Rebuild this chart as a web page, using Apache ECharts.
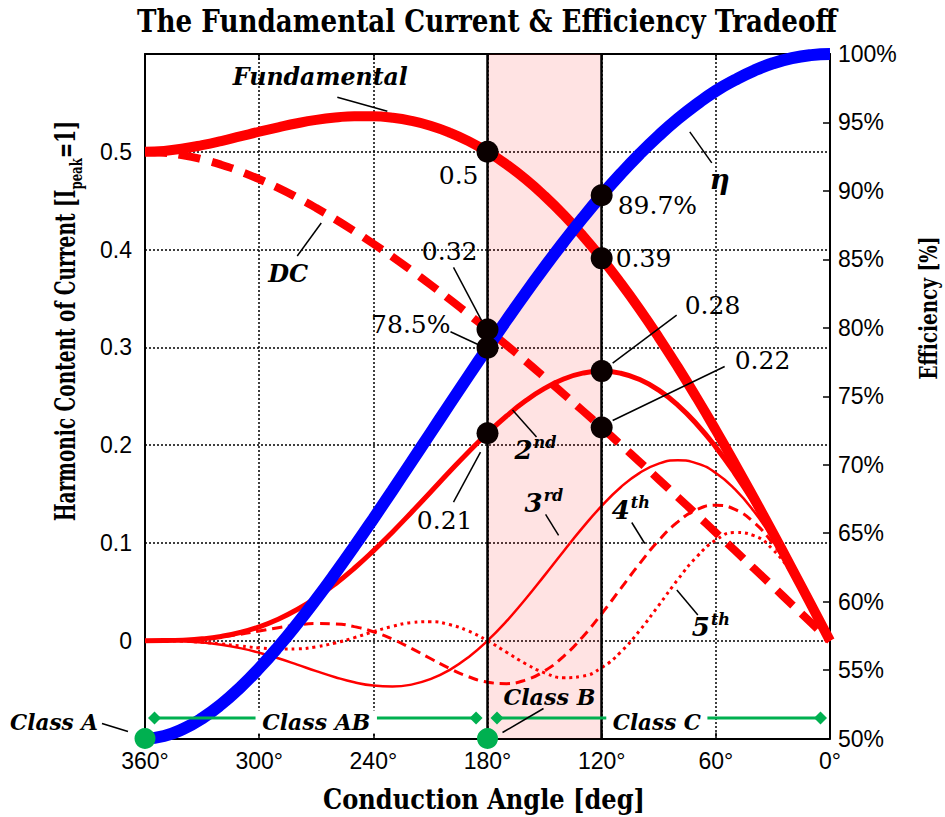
<!DOCTYPE html>
<html><head><meta charset="utf-8">
<script src="https://cdn.jsdelivr.net/npm/echarts@6/dist/echarts.min.js"></script>
<style>html,body{margin:0;padding:0;background:#fff}#c{width:945px;height:817px}</style>
</head><body><div id="c"></div>
<script>
// Conduction angle (deg), 360 -> 0
const angles = [360,350,340,330,320,310,300,290,280,270,260,250,240,230,220,210,200,190,180,170,160,150,140,130,120,110,100,90,80,70,60,50,40,30,20,10,0];
const fundamental = [0.5000,0.5009,0.5033,0.5068,0.5110,0.5157,0.5205,0.5250,0.5292,0.5326,0.5350,0.5364,0.5363,0.5348,0.5316,0.5266,0.5197,0.5109,0.5000,0.4870,0.4720,0.4548,0.4356,0.4143,0.3910,0.3658,0.3389,0.3102,0.2799,0.2482,0.2152,0.1811,0.1460,0.1102,0.0738,0.0370,0];
const dcCurrent = [0.5000,0.4991,0.4965,0.4923,0.4868,0.4800,0.4720,0.4631,0.4532,0.4425,0.4310,0.4188,0.4060,0.3926,0.3786,0.3642,0.3493,0.3340,0.3183,0.3023,0.2860,0.2693,0.2524,0.2353,0.2180,0.2005,0.1828,0.1649,0.1469,0.1288,0.1106,0.0923,0.0739,0.0555,0.0370,0.0185,0];
const second = [0,0.0001,0.0006,0.0019,0.0044,0.0084,0.0142,0.0220,0.0319,0.0440,0.0581,0.0741,0.0919,0.1110,0.1312,0.1519,0.1727,0.1930,0.2122,0.2298,0.2453,0.2580,0.2676,0.2736,0.2757,0.2735,0.2671,0.2562,0.2409,0.2214,0.1980,0.1710,0.1408,0.1080,0.0731,0.0369,0];
const third = [0,-0.0001,-0.0006,-0.0018,-0.0041,-0.0076,-0.0123,-0.0180,-0.0244,-0.0311,-0.0373,-0.0425,-0.0459,-0.0469,-0.0449,-0.0393,-0.0300,-0.0168,0,0.0200,0.0426,0.0668,0.0915,0.1156,0.1378,0.1569,0.1717,0.1811,0.1845,0.1814,0.1715,0.1549,0.1323,0.1043,0.0720,0.0368,0];
const fourth = [0,0.0001,0.0005,0.0017,0.0038,0.0066,0.0100,0.0133,0.0161,0.0176,0.0172,0.0144,0.0092,0.0016,-0.0078,-0.0182,-0.0283,-0.0368,-0.0424,-0.0439,-0.0402,-0.0309,-0.0160,0.0039,0.0276,0.0533,0.0790,0.1025,0.1215,0.1340,0.1386,0.1343,0.1210,0.0993,0.0705,0.0366,0];
const fifth = [0,-0.0001,-0.0005,-0.0016,-0.0033,-0.0054,-0.0074,-0.0085,-0.0083,-0.0062,-0.0023,0.0031,0.0092,0.0147,0.0185,0.0194,0.0165,0.0099,0,-0.0118,-0.0235,-0.0329,-0.0378,-0.0363,-0.0276,-0.0116,0.0105,0.0362,0.0625,0.0859,0.1029,0.1107,0.1075,0.0931,0.0686,0.0363,0];
const efficiency = [50.00,50.18,50.69,51.47,52.49,53.72,55.13,56.69,58.38,60.18,62.07,64.03,66.05,68.11,70.20,72.30,74.40,76.48,78.54,80.56,82.53,84.43,86.27,88.02,89.68,91.24,92.70,94.04,95.26,96.34,97.31,98.10,98.78,99.32,99.70,99.92,100.00];

// Class regions (deg) and efficiency-level row for the class bars
const classAB = [355, 186];
const classC = [175, 5];
const classRow = 51.5;
const classDots = [360, 180];
const bandAngles = [180, 120];

const TITLE = 'The Fundamental Current & Efficiency Tradeoff';
const XNAME = 'Conduction Angle [deg]';
const YNAME_A = 'Harmonic Content of Current [I', YNAME_SUB = 'peak', YNAME_B = '=1]';
const Y2NAME = 'Efficiency [%]';

const pair = arr => angles.map((a, i) => [a, arr[i]]);
const at = (arr, a) => arr[angles.indexOf(a)];

const RED = '#ff0000', BLUE = '#0000ff', GREEN = '#00b050';
const SANS = 'Liberation Sans';
const dotted = {color: '#000', type: [2, 2], width: 1.5};

const harmMarkers = [];
bandAngles.forEach(a => { harmMarkers.push([a, at(fundamental, a)], [a, at(dcCurrent, a)], [a, at(second, a)]); });
const effMarkers = bandAngles.map(a => [a, at(efficiency, a)]);

const option = {
  animation: false,
  backgroundColor: '#fff',
  grid: {left: 145, right: 115, top: 54, bottom: 78.5},
  xAxis: [
    {type: 'value', min: 0, max: 360, interval: 60, inverse: true, position: 'bottom',
     axisLine: {show: true, onZero: false, lineStyle: {color: '#000', width: 2}},
     axisTick: {show: true, inside: true, length: 6, lineStyle: {color: '#000', width: 1.5}},
     axisLabel: {formatter: '{value}°', fontFamily: SANS, fontSize: 23, color: '#000', margin: 11},
     splitLine: {show: true, lineStyle: dotted}},
    {type: 'value', min: 0, max: 360, interval: 60, inverse: true, position: 'top',
     axisLine: {show: true, onZero: false, lineStyle: {color: '#000', width: 2}},
     axisTick: {show: true, inside: true, length: 6, lineStyle: {color: '#000', width: 1.5}},
     axisLabel: {show: false}, splitLine: {show: false}}
  ],
  yAxis: [
    {type: 'value', min: -0.1, max: 0.6, interval: 0.1, position: 'left',
     axisLine: {show: true, onZero: false, lineStyle: {color: '#000', width: 2}},
     axisTick: {show: false},
     axisLabel: {fontFamily: SANS, fontSize: 23, color: '#000', margin: 13,
       formatter: v => (v < -0.05 || v > 0.55) ? '' : (Math.abs(v) < 1e-9 ? '0' : String(Math.round(v * 10) / 10))},
     splitLine: {show: true, lineStyle: dotted}},
    {type: 'value', min: 50, max: 100, interval: 5, position: 'right',
     axisLine: {show: true, onZero: false, lineStyle: {color: '#000', width: 2}},
     axisTick: {show: true, inside: true, length: 7, lineStyle: {color: '#000', width: 1.5}},
     axisLabel: {formatter: '{value}%', fontFamily: SANS, fontSize: 23, color: '#000', margin: 8},
     splitLine: {show: false}}
  ],
  series: [
    {name: '5th', type: 'line', z: 2, data: pair(fifth), smooth: true, showSymbol: false,
     lineStyle: {color: RED, width: 3, type: [3, 4], cap: 'butt'},
     markArea: {silent: true, itemStyle: {color: 'rgba(255,0,0,0.11)'}, data: [[{xAxis: bandAngles[0]}, {xAxis: bandAngles[1]}]]},
     markLine: {silent: true, symbol: 'none', label: {show: false}, lineStyle: {color: '#000', width: 2.5, type: 'solid'},
       data: bandAngles.map(a => ({xAxis: a}))}},
    {name: '4th', type: 'line', z: 3, data: pair(fourth), smooth: true, showSymbol: false,
     lineStyle: {color: RED, width: 3, type: [10, 6], cap: 'butt'}},
    {name: '3rd', type: 'line', z: 3, data: pair(third), smooth: true, showSymbol: false,
     lineStyle: {color: RED, width: 2.5}},
    {name: '2nd', type: 'line', z: 3, data: pair(second), smooth: true, showSymbol: false,
     lineStyle: {color: RED, width: 5}},
    {name: 'DC', type: 'line', z: 3, data: pair(dcCurrent), smooth: true, showSymbol: false,
     lineStyle: {color: RED, width: 8, type: [22, 12], cap: 'butt'}},
    {name: 'Fundamental', type: 'line', z: 3, data: pair(fundamental), smooth: true, showSymbol: false,
     lineStyle: {color: RED, width: 10}},
    {name: 'Efficiency', type: 'line', z: 4, yAxisIndex: 1, data: pair(efficiency), smooth: true, showSymbol: false,
     lineStyle: {color: BLUE, width: 12}},
    {name: 'ClassAB', type: 'line', z: 5, yAxisIndex: 1, clip: false, data: classAB.map(a => [a, classRow]),
     symbol: 'diamond', symbolSize: 13, showSymbol: true, itemStyle: {color: GREEN, opacity: 1}, lineStyle: {color: GREEN, width: 3}},
    {name: 'ClassC', type: 'line', z: 5, yAxisIndex: 1, clip: false, data: classC.map(a => [a, classRow]),
     symbol: 'diamond', symbolSize: 13, showSymbol: true, itemStyle: {color: GREEN, opacity: 1}, lineStyle: {color: GREEN, width: 3}},
    {name: 'markers', type: 'scatter', z: 6, data: harmMarkers, symbolSize: 22, itemStyle: {color: '#0a0000', opacity: 1}, clip: false},
    {name: 'effMarkers', type: 'scatter', z: 6, yAxisIndex: 1, data: effMarkers, symbolSize: 22, itemStyle: {color: '#0a0000', opacity: 1}, clip: false},
    {name: 'classDots', type: 'scatter', z: 7, yAxisIndex: 1, data: classDots.map(a => [a, 50]), symbolSize: 21, itemStyle: {color: GREEN, opacity: 1}, clip: false}
  ]
};

const chart = echarts.init(document.getElementById('c'), null, {renderer: 'svg'});
chart.setOption(option);

const px = (a, v, yi) => chart.convertToPixel({xAxisIndex: 0, yAxisIndex: yi || 0}, [a, v]);
const cv = document.createElement('canvas').getContext('2d');
const mw = (font, t) => { cv.font = font; return cv.measureText(t).width; };
const G = [];
function text(t, x, y, font, align, extra) {
  extra = extra || {};
  const el = {type: 'text', x: x, y: y, z: 100,
    style: Object.assign({text: t, font: font, fill: '#000', align: align, verticalAlign: 'middle', textAlign: align, textVerticalAlign: 'middle'}, extra.style || {})};
  if (extra.scaleX) el.scaleX = extra.scaleX;
  if (extra.rotation) el.rotation = extra.rotation;
  G.push(el);
  return el;
}
function line(x1, y1, x2, y2) {
  G.push({type: 'line', z: 100, shape: {x1: x1, y1: y1, x2: x2, y2: y2}, style: {stroke: '#000', lineWidth: 1.5}});
}
function fitText(t, x, y, font, align, w, extra) {
  extra = extra || {};
  extra.scaleX = w / mw(font, t);
  return text(t, x, y, font, align, extra);
}

// Titles
const fTitle = 'bold 31px "DejaVu Serif"';
fitText(TITLE, 487, 21, fTitle, 'center', 700);
const fAx = 'bold 27px "DejaVu Serif"';
fitText(XNAME, 484, 800, fAx, 'center', 322);
fitText(Y2NAME, 928, 308, 'bold 25px "DejaVu Serif"', 'center', 143, {rotation: Math.PI / 2});
(function () {
  const fSub = 'bold 17px "DejaVu Serif"';
  const wA = mw(fAx, YNAME_A), wS = mw(fSub, YNAME_SUB), wB = mw(fAx, YNAME_B);
  const tot = wA + wS + wB;
  const x0 = -tot / 2;
  G.push({type: 'group', x: 65, y: 321, rotation: Math.PI / 2, scaleX: 400 / tot, z: 100, children: [
    {type: 'text', x: x0, y: 0, z: 100, style: {text: YNAME_A, font: fAx, fill: '#000', align: 'left', verticalAlign: 'middle', textAlign: 'left', textVerticalAlign: 'middle'}},
    {type: 'text', x: x0 + wA, y: 11, z: 100, style: {text: YNAME_SUB, font: fSub, fill: '#000', align: 'left', verticalAlign: 'middle', textAlign: 'left', textVerticalAlign: 'middle'}},
    {type: 'text', x: x0 + wA + wS, y: 0, z: 100, style: {text: YNAME_B, font: fAx, fill: '#000', align: 'left', verticalAlign: 'middle', textAlign: 'left', textVerticalAlign: 'middle'}}
  ]});
})();

// Value annotations
const arrs = {fund: fundamental, dc: dcCurrent, second: second, third: third, fourth: fourth, fifth: fifth, eff: efficiency};
const valueNotes = [
  {s: 'fund', a: 180, yi: 0, dx: -9, dy: 24, align: 'right'},
  {s: 'dc', a: 180, yi: 0, dx: -10, dy: -78, align: 'right', lead: [-34, -62, -6, -9]},
  {s: 'eff', a: 180, yi: 1, dx: -37, dy: -23, align: 'right', lead: [-37, -16, -9, -3]},
  {s: 'second', a: 180, yi: 0, dx: -15, dy: 87, align: 'right', lead: [-34, 69, -7, 19]},
  {s: 'eff', a: 120, yi: 1, dx: 16, dy: 10, align: 'left'},
  {s: 'fund', a: 120, yi: 0, dx: 14, dy: 0, align: 'left'},
  {s: 'second', a: 120, yi: 0, dx: 83, dy: -66, align: 'left', lead: [11, -8, 75, -56]},
  {s: 'dc', a: 120, yi: 0, dx: 133, dy: -67, align: 'left', lead: [11, -7, 123, -61]}
];
const fNum = '25px "DejaVu Serif"';
valueNotes.forEach(n => {
  const v = at(arrs[n.s], n.a);
  const label = n.s === 'eff' ? v.toFixed(1) + '%' : String(Number(v.toFixed(2)));
  const p = px(n.a, v, n.yi);
  text(label, p[0] + n.dx, p[1] + n.dy, fNum, n.align);
  if (n.lead) line(p[0] + n.lead[0], p[1] + n.lead[1], p[0] + n.lead[2], p[1] + n.lead[3]);
});

// Series name annotations
const fName = 'italic bold 24px "DejaVu Serif"';
const fSup = 'italic bold 16px "DejaVu Serif"';
const seriesNotes = [
  {t: 'Fundamental', s: 'fund', a: 240, yi: 0, dx: -53, dy: -39, align: 'center', w: 175, lead: [-36, -19, 14, -5]},
  {t: 'DC', s: 'dc', a: 270, yi: 0, dx: -28, dy: 65, align: 'center', lead: [-19, 48, 5, 15]},
  {t: 'η', s: 'eff', a: 80, yi: 1, dx: 42, dy: 61, align: 'center', big: true, lead: [12, 13, 34, 44]},
  {t: '2', sup: 'nd', s: 'second', a: 170, yi: 0, dx: 8, dy: 34, lead: [6, -6, 30, 21]},
  {t: '3', sup: 'rd', s: 'third', a: 150, yi: 0, dx: -20, dy: -72, lead: [1, -61, 14, -40]},
  {t: '4', sup: 'th', s: 'fourth', a: 90, yi: 0, dx: -47, dy: -30, lead: [-27, -18, -14, 3]},
  {t: '5', sup: 'th', s: 'fifth', a: 60, yi: 0, dx: -24, dy: 87, lead: [-39, 50, -18, 75]}
];
seriesNotes.forEach(n => {
  const p = px(n.a, at(arrs[n.s], n.a), n.yi);
  const x = p[0] + n.dx, y = p[1] + n.dy;
  if (n.sup) {
    const fB = 'italic bold 26px "DejaVu Serif"';
    text(n.t, x, y, fB, 'left');
    text(n.sup, x + mw(fB, n.t) + 1, y - 8, fSup, 'left');
  } else if (n.w) {
    fitText(n.t, x, y, fName, n.align, n.w);
  } else {
    text(n.t, x, y, n.big ? 'italic bold 28px "DejaVu Serif"' : fName, n.align);
  }
  if (n.lead) line(p[0] + n.lead[0], p[1] + n.lead[1], p[0] + n.lead[2], p[1] + n.lead[3]);
});

// Class annotations
const fClass = 'italic bold 23px "DejaVu Serif"';
const classNotes = [
  {t: 'Class A', a: classDots[0], v: 50, dx: -47, dy: -17, align: 'right', w: 88, lead: [-43, -15, -17, -7]},
  {t: 'Class AB', a: 270, v: classRow, dx: 0, dy: 4, align: 'center', w: 108, bg: true},
  {t: 'Class B', a: classDots[1], v: 50, dx: 16, dy: -42, align: 'left', w: 92, lead: [56, -30, 15, -6]},
  {t: 'Class C', a: 91, v: classRow, dx: 0, dy: 4, align: 'center', w: 88, bg: true}
];
classNotes.forEach(n => {
  const p = px(n.a, n.v, 1);
  const extra = n.bg ? {style: {backgroundColor: '#fff', padding: [0, 7]}} : {};
  fitText(n.t, p[0] + n.dx, p[1] + n.dy, fClass, n.align, n.w, extra);
  if (n.lead) line(p[0] + n.lead[0], p[1] + n.lead[1], p[0] + n.lead[2], p[1] + n.lead[3]);
});

chart.setOption({graphic: {elements: G}});
</script></body></html>
